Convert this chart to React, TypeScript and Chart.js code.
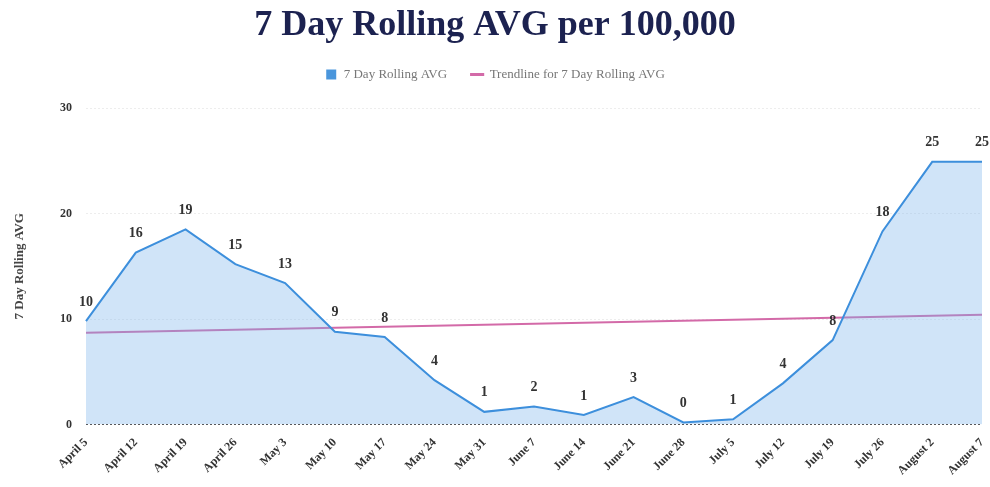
import React, { useEffect, useRef } from "react";
import { Chart, registerables } from "chart.js";

Chart.register(...registerables);

const labels = [
  "April 5", "April 12", "April 19", "April 26", "May 3", "May 10", "May 17", "May 24", "May 31",
  "June 7", "June 14", "June 21", "June 28", "July 5", "July 12", "July 19", "July 26", "August 2", "August 7",
];
const rollingAvg = [9.8, 16.3, 18.5, 15.2, 13.4, 8.8, 8.3, 4.2, 1.2, 1.7, 0.9, 2.6, 0.2, 0.5, 3.9, 8.0, 18.3, 24.9, 24.9];
const trendline = [8.7, null, null, null, null, null, null, null, null, null, null, null, null, null, null, null, null, null, 10.4];
const yTicks = [0, 10, 20, 30];

const SERIF = "'Liberation Serif', 'DejaVu Serif', serif";

const valueLabels = {
  id: "valueLabels",
  afterDatasetsDraw(chart: any) {
    const { ctx } = chart;
    const meta = chart.getDatasetMeta(0);
    ctx.save();
    ctx.font = `bold 14px ${SERIF}`;
    ctx.fillStyle = "#333";
    ctx.textAlign = "center";
    ctx.textBaseline = "bottom";
    meta.data.forEach((pt: any, i: number) => {
      ctx.fillText(String(Math.round(rollingAvg[i])), pt.x, pt.y - 12);
    });
    ctx.restore();
  },
};

const legendMargin = {
  id: "legendMargin",
  afterInit(chart: any) {
    const legend = chart.legend;
    if (!legend) return;
    const orig = legend.fit;
    legend.fit = function () {
      orig.call(this);
      this.height += 17;
    };
  },
};

export default function App() {
  const ref = useRef<HTMLCanvasElement>(null);
  useEffect(() => {
    if (!ref.current) return;
    const chart = new Chart(ref.current, {
      type: "line",
      data: {
        labels,
        datasets: [
          {
            label: "7 Day Rolling AVG",
            data: rollingAvg,
            borderColor: "#3d8fdc",
            backgroundColor: "rgba(120,178,235,0.35)",
            borderWidth: 2,
            fill: "origin",
            pointRadius: 0,
            tension: 0,
          },
          {
            label: "Trendline for 7 Day Rolling AVG",
            data: trendline,
            borderColor: "#d36aa8",
            backgroundColor: "#d36aa8",
            borderWidth: 2,
            fill: false,
            pointRadius: 0,
            spanGaps: true,
          },
        ],
      },
      plugins: [valueLabels, legendMargin],
      options: {
        animation: false,
        responsive: false,
        layout: { padding: { left: 8, right: 8, top: 0, bottom: 6 } },
        plugins: {
          title: {
            display: true,
            text: "7 Day Rolling AVG per 100,000",
            font: { family: SERIF, size: 36, weight: "bold", lineHeight: 1 },
            color: "#1c2250",
            padding: { top: 8, bottom: 0 },
          },
          legend: {
            labels: {
              font: { family: SERIF, size: 13 },
              color: "#777",
              usePointStyle: true,
              boxWidth: 12,
              boxHeight: 10,
              padding: 24,
              generateLabels: (c: any) => [
                { text: "7 Day Rolling AVG", fillStyle: "#4a96dc", strokeStyle: "#4a96dc", lineWidth: 0, pointStyle: "rect", datasetIndex: 0, fontColor: "#777" },
                { text: "Trendline for 7 Day Rolling AVG", fillStyle: "#d36aa8", strokeStyle: "#d36aa8", lineWidth: 3, pointStyle: "line", datasetIndex: 1, fontColor: "#777" },
              ],
            },
          } as any,
          tooltip: { enabled: false },
        },
        scales: {
          x: {
            grid: { display: false },
            border: { display: false },
            afterFit: (axis: any) => {
              axis.paddingRight = 0;
            },
            ticks: {
              font: { family: SERIF, size: 12, weight: "bold" },
              color: "#333",
              maxRotation: 45,
              minRotation: 45,
              autoSkip: false,
            },
          },
          y: {
            min: 0,
            max: 30,
            afterBuildTicks: (axis: any) => {
              axis.ticks = yTicks.map((v) => ({ value: v }));
            },
            afterFit: (axis: any) => {
              axis.width = 78;
            },
            grid: {
              color: (c: any) => (c.tick && c.tick.value === 0 ? "#555" : "rgba(0,0,0,0.07)"),
              drawTicks: false,
            },
            border: { display: false, dash: [2, 2] },
            ticks: {
              font: { family: SERIF, size: 12, weight: "bold" },
              color: "#333",
              padding: 14,
            },
            title: {
              display: true,
              text: "7 Day Rolling AVG",
              font: { family: SERIF, size: 13, weight: "bold" },
              color: "#444",
            },
          },
        },
      } as any,
    });
    return () => chart.destroy();
  }, []);
  return (
    <div style={{ position: "fixed", left: 0, top: 0, width: 990, height: 487, background: "#fff" }}>
      <canvas ref={ref} width={990} height={487} />
    </div>
  );
}
